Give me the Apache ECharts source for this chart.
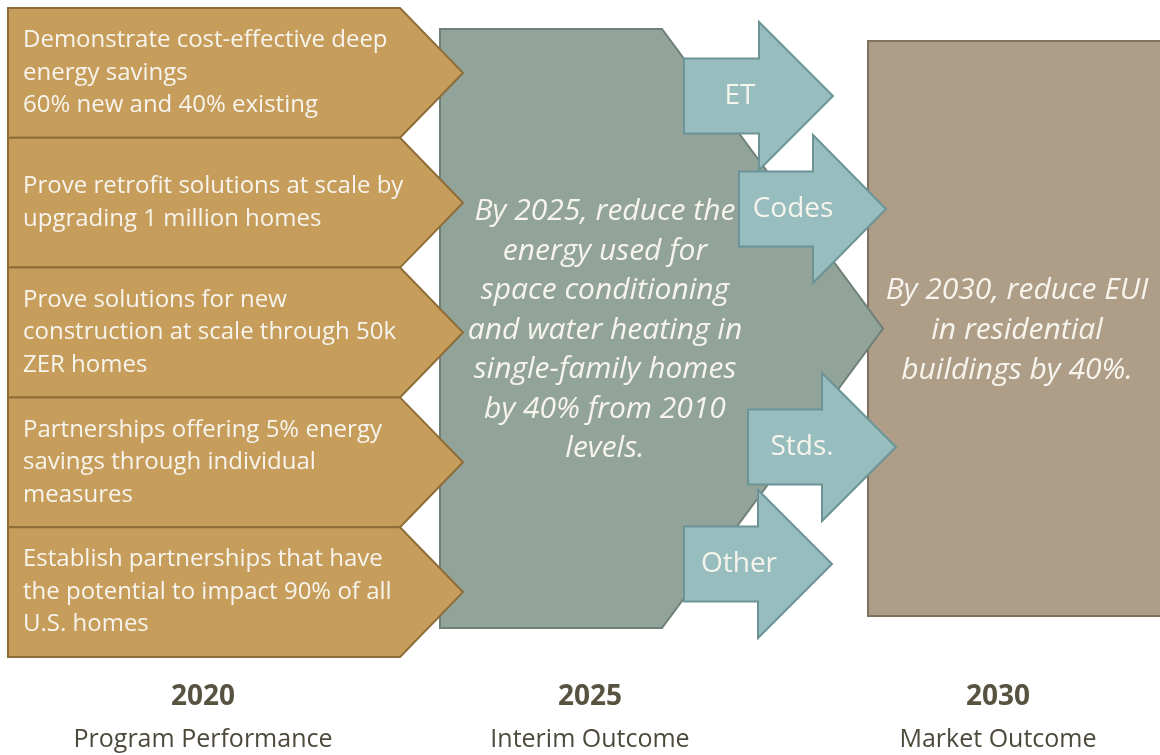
<!DOCTYPE html>
<html>
<head>
<meta charset="utf-8">
<script src="https://cdn.jsdelivr.net/npm/echarts@6/dist/echarts.min.js"></script>
<style>
  html, body { margin: 0; padding: 0; background: #fff; }
  #main { width: 1160px; height: 755px; }
</style>
</head>
<body>
<div id="main"></div>
<script>
	// 2020 program performance goals (one chevron each)
	var goalTexts = [
		"Demonstrate cost-effective deep\nenergy savings\n60% new and 40% existing",
		"Prove retrofit solutions at scale by\nupgrading 1 million homes",
		"Prove solutions for new\nconstruction at scale through 50k\nZER homes",
		"Partnerships offering 5% energy\nsavings through individual\nmeasures",
		"Establish partnerships that have\nthe potential to impact 90% of all\nU.S. homes"
	];

	var interimText = "By 2025, reduce the\nenergy used for\nspace conditioning\nand water heating in\nsingle-family homes\nby 40% from 2010\nlevels.";

	var marketText = "By 2030, reduce EUI\nin residential\nbuildings by 40%.";

	var channelLabels = ["ET", "Codes", "Stds.", "Other"];

	var years = ["2020", "2025", "2030"];

	var stageNames = ["Program Performance", "Interim Outcome", "Market Outcome"];

	/*
	 * layout (in axis units, same as the page pixels)
	 */
	var goalBox = { x0: 8, body: 400, tip: 463, top: 8, h: 129.8 };
	var interimBox = { x0: 440, body: 662, tip: 883, top: 29, bottom: 628, textX: 605, textY: 330, lh: 39.5 };
	var marketBox = { x0: 868, x1: 1166, top: 41, bottom: 616, textX: 1017, textY: 330, lh: 40 };
	// each channel arrow: shaft left, shaft right(head start), tip x, center y, label x
	var channelBoxes = [
		{ l: 684, r: 759, tip: 833, cy: 96, label: 740 },
		{ l: 739, r: 813, tip: 886, cy: 209, label: 793 },
		{ l: 748, r: 822, tip: 896, cy: 447, label: 802 },
		{ l: 684, r: 758, tip: 832, cy: 564, label: 739 }
	];
	var shaftHalf = 37.5, headHalf = 74;
	var stageX = [203, 590, 998];

	var FONT = "'Open Sans', 'Noto Sans', sans-serif";

	var chart = echarts.init(document.getElementById("main"), null, { renderer: "canvas" });

	function idx(n) {
		var arr = [];
		for (var i = 0; i < n; i++) arr.push([i]);
		return arr;
	}

	function poly(api, pts, fill, stroke) {
		return {
			type: "polygon",
			shape: { points: pts.map(function(p) { return api.coord(p); }) },
			style: { fill: fill, stroke: stroke, lineWidth: 2, lineJoin: "miter" }
		};
	}

	function txt(api, x, y, text, opt) {
		var p = api.coord([x, y]);
		return {
			type: "text",
			z2: 10,
			style: {
				x: p[0],
				y: p[1],
				text: text,
				fill: opt.fill || "#F6F4EC",
				font: opt.font,
				align: opt.align || "center",
				verticalAlign: "middle",
				lineHeight: opt.lh
			}
		};
	}

	var option = {
		animation: false,
		grid: { left: 0, right: 0, top: 0, bottom: 0 },
		xAxis: { type: "value", min: 0, max: 1160, show: false },
		yAxis: { type: "value", min: 0, max: 755, inverse: true, show: false },
		series: [{
			// 2030 market outcome
			type: "custom",
			silent: true,
			z: 1,
			data: idx(1),
			renderItem: function(params, api) {
				var b = marketBox;
				return {
					type: "group",
					children: [
						poly(api, [[b.x0, b.top], [b.x1, b.top], [b.x1, b.bottom], [b.x0, b.bottom]], "#AE9D87", "#7F7260"),
						txt(api, b.textX, b.textY, marketText, { font: "italic 30px " + FONT, lh: b.lh })
					]
				};
			}
		}, {
			// 2025 interim outcome
			type: "custom",
			silent: true,
			z: 2,
			data: idx(1),
			renderItem: function(params, api) {
				var b = interimBox, mid = (b.top + b.bottom) / 2;
				return {
					type: "group",
					children: [
						poly(api, [[b.x0, b.top], [b.body, b.top], [b.tip, mid], [b.body, b.bottom], [b.x0, b.bottom]], "#92A39A", "#6E8078"),
						txt(api, b.textX, b.textY, interimText, { font: "italic 30px " + FONT, lh: b.lh })
					]
				};
			}
		}, {
			// 2020 goals
			type: "custom",
			silent: true,
			z: 3,
			data: idx(goalTexts.length),
			renderItem: function(params, api) {
				var i = api.value(0), b = goalBox;
				var top = b.top + i * b.h, bot = top + b.h, mid = top + b.h / 2;
				return {
					type: "group",
					children: [
						poly(api, [[b.x0, top], [b.body, top], [b.tip, mid], [b.body, bot], [b.x0, bot]], "#C79D5C", "#8E6C36"),
						txt(api, 23, mid, goalTexts[i], { font: "24px " + FONT, lh: 32.5, align: "left" })
					]
				};
			}
		}, {
			// channel arrows
			type: "custom",
			silent: true,
			z: 4,
			data: idx(channelLabels.length),
			renderItem: function(params, api) {
				var c = channelBoxes[api.value(0)];
				var pts = [
					[c.l, c.cy - shaftHalf], [c.r, c.cy - shaftHalf], [c.r, c.cy - headHalf],
					[c.tip, c.cy],
					[c.r, c.cy + headHalf], [c.r, c.cy + shaftHalf], [c.l, c.cy + shaftHalf]
				];
				return {
					type: "group",
					children: [
						poly(api, pts, "#97BDBE", "#6C9496"),
						txt(api, c.label, c.cy, channelLabels[api.value(0)], { font: "28px " + FONT, lh: 32 })
					]
				};
			}
		}, {
			// stage captions
			type: "custom",
			silent: true,
			z: 5,
			data: idx(years.length),
			renderItem: function(params, api) {
				var i = api.value(0);
				return {
					type: "group",
					children: [
						txt(api, stageX[i], 697, years[i], { font: "bold 28px " + FONT, lh: 32, fill: "#585240" }),
						txt(api, stageX[i], 740, stageNames[i], { font: "25px " + FONT, lh: 30, fill: "#4D4A3C" })
					]
				};
			}
		}]
	};

	chart.setOption(option);
</script>
</body>
</html>
